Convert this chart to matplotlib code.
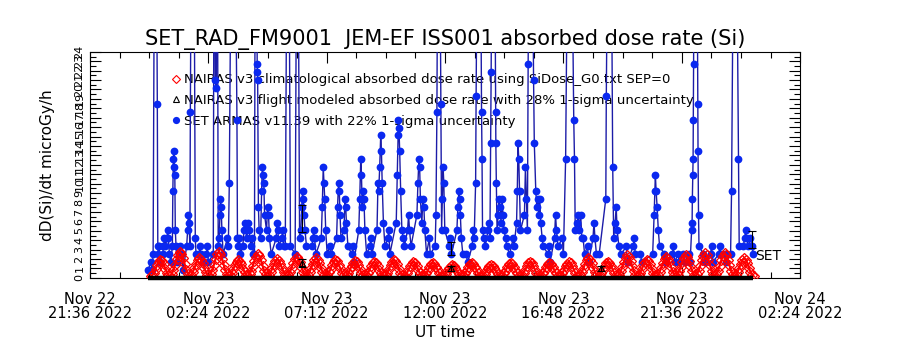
import numpy as np
import matplotlib
matplotlib.use("Agg")
import matplotlib.pyplot as plt
from matplotlib.ticker import MultipleLocator
from matplotlib.lines import Line2D

# ---------------- text / axes data ----------------
title = "SET_RAD_FM9001  JEM-EF ISS001 absorbed dose rate (Si)"
y_label = "dD(Si)/dt microGy/h"
x_label = "UT time"
# hours relative to Nov 23 2022 00:00 UT
x_tick_hours = [-2.4, 2.4, 7.2, 12.0, 16.8, 21.6, 26.4]
x_tick_labels = ["Nov 22\n21:36 2022", "Nov 23\n02:24 2022", "Nov 23\n07:12 2022",
                 "Nov 23\n12:00 2022", "Nov 23\n16:48 2022", "Nov 23\n21:36 2022",
                 "Nov 24\n02:24 2022"]
y_ticks = list(range(0, 25))
legend_labels = [
    "NAIRAS v3 climatological absorbed dose rate using SiDose_G0.txt SEP=0",
    "NAIRAS v3 flight modeled absorbed dose rate with 28% 1-sigma uncertainty",
    "SET ARMAS v11.39 with 22% 1-sigma uncertainty",
]

# ---------------- NAIRAS climatological (regular cadence) ----------------
nairas_start_h = 0.06
nairas_step_min = 3.945
nairas_clim = [
    0.15, 0.29, 0.57, 0.95, 1.37, 1.71, 1.90, 1.75, 1.43, 0.99, 0.57, 0.29,
    0.22, 0.41, 0.83, 1.38, 1.99, 2.48, 2.76, 2.54, 2.07, 1.44, 0.83, 0.41,
    0.17, 0.32, 0.63, 1.05, 1.51, 1.89, 2.10, 1.93, 1.58, 1.09, 0.63, 0.32,
    0.20, 0.43, 0.80, 1.40, 2.00, 2.50, 2.74, 2.55, 2.05, 1.42, 0.85, 0.40,
    0.16, 0.30, 0.56, 0.96, 1.36, 1.70, 1.90, 1.74, 1.44, 0.98, 0.58, 0.28,
    0.20, 0.38, 0.75, 1.25, 1.80, 2.25, 2.50, 2.30, 1.88, 1.30, 0.75, 0.38,
    0.16, 0.30, 0.60, 1.00, 1.44, 1.80, 2.00, 1.84, 1.50, 1.04, 0.60, 0.30,
    0.18, 0.33, 0.66, 1.10, 1.58, 1.98, 2.20, 2.02, 1.65, 1.14, 0.66, 0.33,
    0.17, 0.31, 0.64, 1.04, 1.52, 1.88, 2.10, 1.92, 1.57, 1.10, 0.62, 0.32,
    0.15, 0.28, 0.58, 0.94, 1.38, 1.70, 1.90, 1.76, 1.42, 1.00, 0.56, 0.29,
    0.14, 0.27, 0.54, 0.90, 1.30, 1.62, 1.80, 1.66, 1.35, 0.94, 0.54, 0.27,
    0.14, 0.26, 0.51, 0.85, 1.22, 1.53, 1.70, 1.56, 1.28, 0.88, 0.51, 0.26,
    0.15, 0.29, 0.57, 0.95, 1.37, 1.71, 1.90, 1.75, 1.43, 0.99, 0.57, 0.29,
    0.13, 0.25, 0.52, 0.84, 1.23, 1.52, 1.70, 1.57, 1.27, 0.89, 0.50, 0.25,
    0.13, 0.24, 0.48, 0.80, 1.15, 1.44, 1.60, 1.47, 1.20, 0.83, 0.48, 0.24,
    0.11, 0.21, 0.42, 0.70, 1.01, 1.26, 1.40, 1.29, 1.05, 0.73, 0.42, 0.21,
    0.12, 0.25, 0.47, 0.81, 1.14, 1.45, 1.60, 1.46, 1.21, 0.82, 0.49, 0.23,
    0.12, 0.20, 0.43, 0.69, 1.02, 1.25, 1.40, 1.30, 1.04, 0.74, 0.41, 0.22,
    0.13, 0.24, 0.48, 0.80, 1.15, 1.44, 1.60, 1.47, 1.20, 0.83, 0.48, 0.24,
    0.14, 0.26, 0.51, 0.85, 1.22, 1.53, 1.70, 1.56, 1.28, 0.88, 0.51, 0.26,
    0.12, 0.24, 0.49, 0.79, 1.16, 1.43, 1.60, 1.48, 1.19, 0.84, 0.47, 0.25,
    0.13, 0.25, 0.52, 0.84, 1.23, 1.52, 1.70, 1.57, 1.27, 0.89, 0.50, 0.25,
    0.17, 0.32, 0.63, 1.05, 1.51, 1.89, 2.10, 1.93, 1.58, 1.09, 0.63, 0.32,
    0.14, 0.26, 0.51, 0.85, 1.22, 1.53, 1.70, 1.56, 1.28, 0.88, 0.51, 0.26,
    0.19, 0.36, 0.72, 1.20, 1.73, 2.16, 2.40, 2.21, 1.80, 1.25, 0.72, 0.36,
    0.15, 0.29, 0.57, 0.95, 1.37, 1.71, 1.90, 1.75, 1.43, 0.99, 0.57, 0.29,
    0.18, 0.33, 0.66, 1.10, 1.58, 1.98, 2.20, 2.02, 1.65, 1.14, 0.66, 0.33,
    0.20, 0.35, 0.73, 1.19, 1.74, 2.15, 2.40, 2.20, 1.81, 1.24, 0.73, 0.35,
    0.21, 0.39, 0.78, 1.30, 1.87, 2.34, 2.60, 2.39, 1.95, 1.35, 0.78, 0.39,
    0.20, 0.40, 0.77, 1.31, 1.86, 2.35, 2.60, 2.40, 1.94, 1.36, 0.77, 0.40,
    0.17, 0.32, 0.63, 1.05, 1.51, 1.89, 2.10, 1.93, 1.58, 1.09, 0.63, 0.32,
    0.17,
]

# ---------------- SET ARMAS measurements (hours from Nov 23 00:00 UT) -------
set_time_h = [
    -0.04, 0.06, 0.12,
    0.16, 0.25, 0.33, 0.35, 0.37,
    0.40, 0.43,
    0.55, 0.58, 0.62, 0.66, 0.72, 0.75, 0.78, 0.82, 0.88,
    0.94, 0.96, 0.98, 1.00, 1.02, 1.04, 1.06, 1.09, 1.12,
    1.22, 1.26, 1.30, 1.38,
    1.52, 1.56, 1.59, 1.62, 1.65,
    1.67, 1.77, 1.87, 1.90,
    2.02, 2.06, 2.10, 2.18,
    2.32, 2.36, 2.40,
    2.60, 2.64, 2.68, 2.72, 2.76, 2.80,
    2.84, 2.87, 2.89, 2.92, 2.95, 3.00,
    3.17, 3.21,
    3.25, 3.40, 3.56, 3.58,
    3.62, 3.66, 3.70,
    3.80, 3.84, 3.88, 3.92, 3.96, 4.02, 4.06, 4.12, 4.18, 4.22,
    4.27, 4.33, 4.38, 4.39, 4.40, 4.43, 4.46,
    4.52, 4.56, 4.59, 4.62, 4.65, 4.68,
    4.76, 4.80, 4.84, 4.88, 4.95,
    5.15, 5.18, 5.22, 5.26,
    5.37, 5.41, 5.45,
    5.52, 5.63, 5.73,
    5.92, 6.01, 6.10,
    6.15, 6.19, 6.22, 6.25, 6.28, 6.32, 6.38,
    6.60, 6.64, 6.67, 6.71, 6.76,
    6.98, 7.02, 7.06, 7.09, 7.12, 7.16, 7.22,
    7.32, 7.36,
    7.60, 7.64, 7.68, 7.71, 7.74, 7.78,
    7.90, 7.94, 7.97, 8.00, 8.06,
    8.22, 8.26, 8.30,
    8.50, 8.54, 8.58, 8.61, 8.64, 8.68, 8.71, 8.75, 8.82,
    8.95, 8.99, 9.03,
    9.24, 9.28, 9.31, 9.35, 9.39, 9.42, 9.45, 9.50, 9.56,
    9.68, 9.72, 9.76,
    10.02, 10.06, 10.09, 10.11, 10.13, 10.16, 10.20, 10.25,
    10.31, 10.35,
    10.48, 10.52, 10.56, 10.62,
    10.86, 10.90, 10.94, 10.97, 11.00, 11.06, 11.10, 11.14, 11.18, 11.25,
    11.36, 11.40,
    11.60, 11.63, 11.67, 11.74, 11.83, 11.86,
    11.89, 11.92, 11.95, 11.99,
    12.18, 12.22, 12.26,
    12.48, 12.52, 12.56, 12.59, 12.62, 12.66, 12.72,
    12.85, 12.92,
    13.10, 13.14, 13.18,
    13.24, 13.26, 13.38, 13.48, 13.50, 13.52,
    13.58, 13.63, 13.74, 13.78, 13.82,
    13.85, 13.87, 13.96, 14.05, 14.06, 14.08, 14.11,
    14.15, 14.19, 14.23, 14.27, 14.31, 14.35, 14.39,
    14.46, 14.50, 14.62, 14.76, 14.80,
    14.90, 14.93, 14.96, 14.99, 15.02, 15.06,
    15.22, 15.26, 15.30,
    15.34, 15.37, 15.47, 15.59, 15.62, 15.68,
    15.72, 15.76, 15.80, 15.84, 15.88, 15.94, 15.98,
    16.18, 16.22, 16.26,
    16.44, 16.48, 16.52, 16.58,
    16.76, 16.80,
    16.89, 17.05, 17.22, 17.25, 17.28,
    17.36, 17.40, 17.45, 17.50, 17.55, 17.60, 17.66,
    17.78, 17.82,
    18.00, 18.04, 18.08, 18.14, 18.25,
    18.52, 18.54, 18.68, 18.80, 18.84,
    18.90, 18.94, 18.98, 19.05, 19.15,
    19.35, 19.40,
    19.63, 19.67, 19.71,
    19.92, 19.98,
    20.42, 20.48, 20.51, 20.53, 20.56, 20.60, 20.65, 20.70,
    20.90, 20.96,
    21.22, 21.26, 21.31,
    21.45, 21.50,
    21.65, 21.72,
    21.88, 21.94,
    22.00, 22.02, 22.03, 22.05, 22.06, 22.07, 22.08, 22.17, 22.25, 22.26, 22.28, 22.30,
    22.48, 22.54,
    22.77, 22.81, 22.86,
    23.10, 23.14, 23.20, 23.34, 23.40,
    23.58, 23.62, 23.76, 23.90, 23.93,
    24.10, 24.15, 24.19, 24.23, 24.30, 24.38, 24.45, 24.51,
]
set_dose = [
    0.84, 1.68, 0.84,
    2.52, 60.0, 18.48, 3.36, 2.52,
    3.36, 1.68,
    2.52, 3.36, 4.20, 3.36, 4.20, 5.04, 4.20, 2.52, 1.68,
    3.36, 9.24, 12.60, 13.44, 11.76, 10.92, 5.04, 3.36, 1.68,
    2.52, 3.36, 2.52, 0.84,
    3.36, 5.04, 6.72, 5.88, 3.36,
    17.64, 70.0, 4.20, 2.52,
    2.52, 3.36, 2.52, 1.68,
    2.52, 3.36, 1.68,
    2.52, 50.0, 21.00, 20.16, 45.0, 3.36,
    4.20, 6.72, 8.40, 7.56, 5.04, 2.52,
    4.20, 3.36,
    10.08, 65.0, 16.80, 4.20,
    3.36, 4.20, 2.52,
    3.36, 5.04, 5.88, 5.04, 4.20, 5.88, 5.04, 3.36, 4.20, 2.52,
    2.52, 70.0, 22.68, 21.84, 21.00, 7.56, 5.04,
    4.20, 9.24, 11.76, 10.92, 10.08, 6.72,
    5.04, 7.56, 6.72, 4.20, 2.52,
    4.20, 5.88, 5.04, 3.36,
    4.20, 5.04, 3.36,
    3.36, 60.0, 3.36,
    2.52, 55.0, 4.20,
    5.04, 7.56, 9.24, 8.40, 6.72, 5.04, 3.36,
    3.36, 4.20, 5.04, 4.20, 2.52,
    4.20, 7.56, 11.76, 10.08, 8.40, 5.04, 2.52,
    3.36, 2.52,
    4.20, 7.56, 10.08, 9.24, 6.72, 4.20,
    5.04, 8.40, 7.56, 5.88, 3.36,
    2.52, 3.36, 1.68,
    5.04, 8.40, 12.60, 10.92, 7.56, 9.24, 8.40, 5.04, 2.52,
    3.36, 4.20, 2.52,
    5.04, 10.08, 9.24, 11.76, 15.12, 13.44, 10.08, 5.88, 3.36,
    4.20, 5.04, 2.52,
    5.88, 10.92, 15.12, 16.80, 15.96, 13.44, 9.24, 5.04,
    4.20, 3.36,
    5.04, 6.72, 5.04, 3.36,
    6.72, 10.08, 12.60, 11.76, 8.40, 5.88, 8.40, 7.56, 5.04, 2.52,
    4.20, 2.52,
    3.36, 6.72, 17.64, 60.0, 18.48, 5.04,
    8.40, 11.76, 10.08, 5.04,
    3.36, 4.20, 2.52,
    5.04, 7.56, 9.24, 8.40, 6.72, 4.20, 2.52,
    2.52, 1.68,
    3.36, 5.04, 4.20,
    10.08, 19.32, 65.0, 17.64, 12.60, 5.04,
    4.20, 3.36, 5.04, 5.88, 4.20,
    14.28, 21.84, 70.0, 17.64, 14.28, 10.08, 5.04,
    6.72, 8.40, 7.56, 5.88, 8.40, 6.72, 5.04,
    4.20, 3.36, 2.52, 4.20, 3.36,
    5.88, 9.24, 14.28, 12.60, 9.24, 5.04,
    6.72, 11.76, 8.40,
    5.04, 22.68, 65.0, 21.00, 14.28, 9.24,
    7.56, 8.40, 6.72, 8.40, 5.88, 4.20, 3.36,
    2.52, 3.36, 1.68,
    4.20, 6.72, 5.04, 3.36,
    4.20, 2.52,
    12.60, 60.0, 16.80, 12.60, 5.04,
    5.88, 6.72, 5.04, 6.72, 4.20, 4.20, 2.52,
    3.36, 1.68,
    4.20, 5.88, 4.20, 2.52, 2.52,
    8.40, 19.32, 65.0, 11.76, 4.20,
    5.88, 7.56, 5.04, 3.36, 2.52,
    3.36, 1.68,
    3.36, 4.20, 2.52,
    2.52, 1.68,
    2.52, 6.72, 9.24, 10.92, 9.24, 7.56, 5.04, 3.36,
    2.52, 1.68,
    2.52, 3.36, 1.68,
    2.52, 1.68,
    2.52, 1.68,
    2.52, 1.68,
    5.04, 5.88, 8.40, 10.92, 12.60, 16.80, 22.68, 70.0, 18.48, 13.44, 6.72, 3.36,
    2.52, 1.68,
    2.52, 3.36, 1.68,
    2.52, 3.36, 2.52, 2.52, 1.68,
    2.52, 9.24, 60.0, 12.60, 3.36,
    3.36, 4.20, 5.04, 4.20, 3.36, 4.20, 3.36, 2.52,
]

# ---------------- error-bar samples ----------------
errbar_time_h = [6.18, 12.24, 18.33, 24.43]
set_err_center = [6.3, 3.1, np.nan, 4.1]
set_rel_err = 0.22
nairas_flight_center = [1.6, 1.0, 1.0, np.nan]
nairas_flight_rel_err = 0.28

# ---------------- figure ----------------
plt.rcParams['font.family'] = ['DejaVu Sans']
fig = plt.figure(figsize=(9, 3.5), dpi=100)
ax = fig.add_axes([0.1, 0.206, 0.789, 0.646])

blue_line = '#1c1ca8'
blue_dot = '#0a28f0'
red = '#ff0000'

set_t = np.array(set_time_h)
set_v = np.array(set_dose)
ax.plot(set_t, set_v, '-', color=blue_line, lw=1.0, zorder=3)
ax.plot(set_t, set_v, 'o', color=blue_dot, ms=5.6, mew=0, zorder=4)

nairas_t = nairas_start_h + np.arange(len(nairas_clim)) * nairas_step_min / 60.0
ax.plot(nairas_t, nairas_clim, '-', color=red, lw=1.6, zorder=5)
ax.plot(nairas_t, nairas_clim, 'D', mfc='none', mec=red, ms=4.8, mew=0.9, zorder=5)

# flight-modeled baseline over the data span
ax.plot([set_t[0], set_t[-1]], [0.0, 0.0], color='black', lw=3.2, zorder=6, clip_on=False,
        solid_capstyle='butt')
ax.plot(errbar_time_h, nairas_flight_center, '^', mfc='none', mec='black', ms=4, mew=0.8, zorder=6)

sc = np.array(set_err_center)
ax.errorbar(errbar_time_h, sc, yerr=set_rel_err * sc, fmt='none', ecolor='black',
            elinewidth=0.8, capsize=3, capthick=0.8, zorder=7)
nc = np.array(nairas_flight_center)
ax.errorbar(errbar_time_h, nc, yerr=nairas_flight_rel_err * nc, fmt='none', ecolor='black',
            elinewidth=0.8, capsize=3, capthick=0.8, zorder=7)

ax.text(set_t[-1] + 0.05, 1.6, "SET", fontsize=10, va='bottom', ha='left', zorder=8)

ax.set_xlim(x_tick_hours[0], x_tick_hours[-1])
ax.set_ylim(0, 24)
ax.set_xticks(x_tick_hours)
ax.set_xticklabels(x_tick_labels, fontsize=10.5, linespacing=0.95)
ax.xaxis.set_minor_locator(MultipleLocator(1.2))
ax.set_yticks(y_ticks)
ax.set_yticklabels([str(v) for v in y_ticks], rotation=90, va='center', fontsize=8)
ax.yaxis.set_minor_locator(MultipleLocator(0.5))
ax.tick_params(which='both', direction='in', top=True, right=True, width=0.8)
ax.tick_params(which='major', length=8)
ax.tick_params(which='minor', length=4)
ax.tick_params(axis='x', which='major', pad=10)
ax.tick_params(axis='y', which='major', pad=4)
for s in ax.spines.values():
    s.set_linewidth(0.8)

ax.set_xlabel(x_label, fontsize=11, labelpad=3)
ax.set_ylabel(y_label, fontsize=11, labelpad=14)
ax.set_title(title, fontsize=15, pad=5)

handles = [
    Line2D([], [], marker='D', ls='none', mfc='none', mec=red, ms=4.2, mew=0.8),
    Line2D([], [], marker='^', ls='none', mfc='none', mec='black', ms=4.5, mew=0.8),
    Line2D([], [], marker='o', ls='none', color=blue_dot, ms=5.2, mew=0),
]
leg = ax.legend(handles, legend_labels, loc='upper left', bbox_to_anchor=(0.115, 0.905),
                frameon=False, fontsize=9.5, handlelength=0.7, handletextpad=0.25,
                labelspacing=0.58, borderpad=0, borderaxespad=0)
leg.set_zorder(1)

fig.savefig("out.png", dpi=100)
